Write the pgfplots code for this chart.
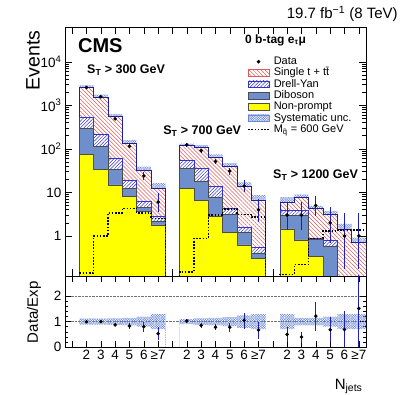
\documentclass[border=0pt]{standalone}
\usepackage{fontspec}
\setmainfont{Liberation Sans}
\usepackage{pgfplots}
\pgfplotsset{compat=1.18}
\usepgfplotslibrary{fillbetween}
\usetikzlibrary{patterns,patterns.meta}

\definecolor{npyellow}{RGB}{255,255,0}
\definecolor{dibblue}{RGB}{111,142,204}
\definecolor{hatchred}{RGB}{222,90,90}
\definecolor{dyblue}{RGB}{50,50,205}
\definecolor{edgeblue}{RGB}{30,30,150}
\definecolor{systblue}{RGB}{105,135,220}
\definecolor{errblue}{RGB}{30,30,190}

\pgfplotsset{
  boxleg/.style={legend image code/.code={\draw[##1] (0pt,-3.4pt) rectangle (21pt,3.4pt);}},
  tstyle/.style={fill=white, draw=edgeblue, line width=0.5pt,
    postaction={pattern={Lines[angle=-45,distance=2.8pt,line width=0.5pt]}, pattern color=hatchred}},
  dystyle/.style={fill=white, draw=dyblue, line width=0.6pt,
    postaction={pattern={Lines[angle=45,distance=2.4pt,line width=0.5pt]}, pattern color=dyblue}},
  dibstyle/.style={fill=dibblue, draw=black!70, line width=0.5pt},
  npstyle/.style={fill=npyellow, draw=black!70, line width=0.5pt},
  syststyle/.style={pattern={Hatch[angle=45,distance=1.7pt,line width=0.35pt]}, pattern color=systblue},
  sigstyle/.style={black, line width=1.6pt, dash pattern=on 1.6pt off 1.6pt},
  stack/.style={const plot, forget plot},
}

\begin{document}
\begin{tikzpicture}

\begin{axis}[
  name=main, at={(0pt,0pt)}, anchor=south west,
  width=301pt, height=249pt, scale only axis,
  clip mode=individual,
  xmin=0, xmax=21,
  ymode=log, ymin=0.12, ymax=6.3e4,
  xtick={0.5,1.5,...,20.5}, xticklabel=\empty,
  ytick={1,10,100,1000,10000},
  yticklabels={1,10,10\textsuperscript{2},10\textsuperscript{3},10\textsuperscript{4}},
  tick label style={font=\fontsize{13.5}{14}\selectfont},
  major tick length=7pt, minor tick length=3.5pt,
  tick style={black, line width=0.5pt},
  axis line style={line width=0.6pt},
  ylabel={Events},
  ylabel style={font=\fontsize{19.5}{20}\selectfont, at={(axis description cs:-0.106,1)}, anchor=east},
  legend cell align=left,
  legend style={at={(rel axis cs:0.605,0.884)}, anchor=north west, draw=none, fill=none,
    inner sep=0pt, row sep=0pt, font=\fontsize{11}{12}\selectfont,
    nodes={inner sep=0.9pt, text height=7.6pt, text depth=1.9pt},
    /tikz/every odd column/.append style={column sep=3pt}},
]
% legend, in the reference's order
\addlegendimage{legend image code/.code={\fill[black] (10.5pt,0pt) circle (1.6pt);}}
\addlegendentry{Data}
\addlegendimage{boxleg, tstyle, draw=hatchred}
\addlegendentry{Single t + t\={t}}
\addlegendimage{boxleg, dystyle}
\addlegendentry{Drell-Yan}
\addlegendimage{boxleg, dibstyle}
\addlegendentry{Diboson}
\addlegendimage{boxleg, npstyle}
\addlegendentry{Non-prompt}
\addlegendimage{boxleg, syststyle, draw=systblue, line width=0.4pt}
\addlegendentry{Systematic unc.}
\addlegendimage{legend image code/.code={\draw[black, line width=1.6pt, dash pattern=on 1.6pt off 1.6pt] (0pt,0pt) -- (21pt,0pt);}}
\addlegendentry{M\textsubscript{\~{q}} = 600 GeV}

% stacked backgrounds: cumulative heights per bin (left bin edges), top layer first
\addplot[stack, tstyle] coordinates {
  (1,0.01)(1,2570)(2,1570)(3,565)(4,138)(5,32.6)(6,12.6)(7,12.6)(7,0.01)
  (8,120)(9,107)(10,65)(11,40)(12,13.5)(13,6.7)(14,6.7)(14,0.01)
  (15,6.0)(16,7.7)(17,4.3)(18,3.1)(19,1.45)(20,0.7)(21,0.7)(21,0.01)};
\addplot[stack, dystyle] coordinates {
  (1,0.01)(1,520)(2,218)(3,61)(4,18.5)(5,6.1)(6,2.77)(7,2.77)(7,0.01)
  (8,55)(9,35)(10,13.5)(11,4.4)(12,1.58)(13,0.55)(14,0.55)(14,0.01)
  (15,3.9)(16,3.9)(17,0.9)(18,0.81)(19,0.05)(20,0.05)(21,0.05)(21,0.01)};
\addplot[stack, dibstyle] coordinates {
  (1,0.01)(1,295)(2,116)(3,34)(4,12.4)(5,4.55)(6,2.13)(7,2.13)(7,0.01)
  (8,35)(9,18.4)(10,7.9)(11,3.1)(12,1.2)(13,0.41)(14,0.41)(14,0.01)
  (15,3.0)(16,3.0)(17,0.85)(18,0.57)(19,0.04)(20,0.04)(21,0.04)(21,0.01)};
\addplot[stack, npstyle] coordinates {
  (1,0.01)(1,76)(2,34)(3,14.8)(4,8.0)(5,3.6)(6,1.79)(7,1.79)(7,0.01)
  (8,12.3)(9,6.5)(10,2.9)(11,1.2)(12,0.62)(13,0.31)(14,0.31)(14,0.01)
  (15,1.45)(16,0.81)(17,0.34)(18,0.05)(19,0.02)(20,0.02)(21,0.02)(21,0.01)};

% systematic band
\addplot[name path=up, draw=none, const plot, forget plot] coordinates {
  (1,2878)(2,1758)(3,638)(4,159)(5,39.1)(6,16.4)(7,16.4)(7,0.01)
  (8,132)(9,121)(10,74.8)(11,47.2)(12,16.9)(13,8.7)(14,8.7)(14,0.01)
  (15,7.8)(16,8.9)(17,4.9)(18,3.7)(19,1.9)(20,0.91)(21,0.91)};
\addplot[name path=lo, draw=none, const plot, forget plot] coordinates {
  (1,2262)(2,1382)(3,492)(4,117)(5,26.1)(6,8.8)(7,8.8)(7,0.01)
  (8,108)(9,93.1)(10,55.3)(11,32.8)(12,10.1)(13,4.7)(14,4.7)(14,0.01)
  (15,4.2)(16,6.5)(17,3.7)(18,2.5)(19,1.0)(20,0.49)(21,0.49)};
\addplot[syststyle, forget plot] fill between[of=up and lo];

% signal
\addplot[sigstyle, const plot, forget plot] coordinates {
  (1,0.14)(2,1.0)(3,3.4)(4,4.3)(5,3.4)(6,2.5)(7,2.5)(7,0.01)
  (8,0.15)(9,0.88)(10,3.0)(11,4.2)(12,3.1)(13,2.7)(14,2.7)(14,0.01)
  (15,0.13)(16,0.22)(17,0.88)(18,1.3)(19,1.37)(20,1.37)(21,1.37)};

% data
\addplot[only marks, mark=*, mark size=1.6pt, black, forget plot,
  error bars/.cd, y dir=both, y explicit,
  error bar style={errblue, line width=0.8pt}, error mark=none] coordinates {
  (1.5,2570) +- (0,51)
  (2.5,1570) +- (0,40)
  (3.5,490) +- (0,22)
  (4.5,115) +- (0,11)
  (5.5,24) +- (0,5)
  (6.5,6) += (0,3.6) -= (0,2.4)
  (8.5,124) +- (0,11)
  (9.5,91) +- (0,9.5)
  (10.5,51) +- (0,7.2)
  (11.5,31) +- (0,5.6)
  (12.5,14) += (0,4.8) -= (0,3.7)
  (13.5,4) += (0,3.2) -= (0,1.9)
  (15.5,3) += (0,2.9) -= (0,1.6)
  (16.5,3) += (0,2.9) -= (0,1.6)
  (17.5,5) += (0,3.4) -= (0,2.2)
  (18.5,2) += (0,2.6) -= (0,1.3)
  (19.5,1) += (0,2.3) -= (0,0.83)
  (20.5,1) += (0,2.3) -= (0,0.83)};

\node[anchor=north west, inner sep=0pt, font=\fontsize{20}{20}\selectfont\bfseries] at (rel axis cs:0.043,0.956) {CMS};
\node[anchor=west, inner sep=0pt, font=\fontsize{12.5}{13}\selectfont\bfseries] at (rel axis cs:0.073,0.827) {S\textsubscript{T} > 300 GeV};
\node[anchor=west, inner sep=0pt, font=\fontsize{12.5}{13}\selectfont\bfseries] at (rel axis cs:0.326,0.582) {S\textsubscript{T} > 700 GeV};
\node[anchor=west, inner sep=0pt, font=\fontsize{12.5}{13}\selectfont\bfseries] at (rel axis cs:0.691,0.406) {S\textsubscript{T} > 1200 GeV};
\node[anchor=west, inner sep=0pt, font=\fontsize{12}{13}\selectfont\bfseries] at (rel axis cs:0.598,0.948) {0 b-tag e\textsubscript{τ}μ};
\node[anchor=east, inner sep=0pt, font=\fontsize{15}{16}\selectfont] at (rel axis cs:1.106,1.052) {19.7 fb\textsuperscript{−1} (8 TeV)};
\end{axis}

\begin{axis}[
  at={(0pt,0pt)}, anchor=north west,
  width=301pt, height=71pt, scale only axis,
  xmin=0, xmax=21, ymin=0, ymax=2.8,
  xtick={0.5,1.5,...,20.5},
  xticklabels={{},2,3,4,5,6,≥7,{},2,3,4,5,6,≥7,{},2,3,4,5,6,≥7},
  ytick={0,1,2}, yticklabels={0,1,2},
  minor y tick num=4,
  ymajorgrids, major grid style={black!55, densely dotted, line width=0.5pt},
  tick label style={font=\fontsize{13.5}{14}\selectfont},
  major tick length=6pt, minor tick length=3pt,
  tick style={black, line width=0.5pt},
  axis line style={line width=0.6pt},
  ylabel={Data/Exp},
  ylabel style={font=\fontsize{15}{16}\selectfont, at={(axis description cs:-0.103,0.49)}, anchor=center},
  xlabel={N\textsubscript{jets}},
  xlabel style={font=\fontsize{15}{16}\selectfont, at={(axis description cs:1,-0.40)}, anchor=north east},
]
\addplot[name path=rup, draw=none, const plot, forget plot] coordinates {
  (1,1.12)(2,1.12)(3,1.13)(4,1.15)(5,1.2)(6,1.3)(7,1.3)(7,-1)
  (8,1.1)(9,1.13)(10,1.15)(11,1.18)(12,1.25)(13,1.3)(14,1.3)(14,-1)
  (15,1.3)(16,1.15)(17,1.15)(18,1.2)(19,1.3)(20,1.3)(21,1.3)};
\addplot[name path=rlo, draw=none, const plot, forget plot] coordinates {
  (1,0.88)(2,0.88)(3,0.87)(4,0.85)(5,0.8)(6,0.7)(7,0.7)(7,-1)
  (8,0.9)(9,0.87)(10,0.85)(11,0.82)(12,0.75)(13,0.7)(14,0.7)(14,-1)
  (15,0.7)(16,0.85)(17,0.85)(18,0.8)(19,0.7)(20,0.7)(21,0.7)};
\addplot[syststyle, forget plot] fill between[of=rup and rlo];

\addplot[only marks, mark=*, mark size=1.6pt, black, forget plot,
  error bars/.cd, y dir=both, y explicit,
  error bar style={errblue, line width=0.8pt}, error mark=none] coordinates {
  (1.5,1.0) +- (0,0.03)
  (2.5,1.0) +- (0,0.03)
  (3.5,0.87) +- (0,0.05)
  (4.5,0.83) += (0,0.11) -= (0,0.12)
  (5.5,0.8) += (0,0.17) -= (0,0.19)
  (6.5,0.53) += (0,0.25) -= (0,0.24)
  (8.5,1.03) +- (0,0.09)
  (9.5,0.85) += (0,0.09) -= (0,0.11)
  (10.5,0.78) += (0,0.12) -= (0,0.10)
  (11.5,0.78) += (0,0.16) -= (0,0.17)
  (12.5,1.05) += (0,0.31) -= (0,0.35)
  (13.5,0.67) += (0,0.33) -= (0,0.36)
  (15.5,0.5) += (0,0.28) -= (0,0.31)
  (16.5,0.39) += (0,0.22) -= (0,0.23)
  (17.5,1.22) += (0,0.56) -= (0,0.58)
  (18.5,0.68) += (0,0.49) -= (0,0.49)
  (19.5,0.69) += (0,0.71) -= (0,0.69)
  (20.5,1.52) += (0,2.0) -= (0,1.52)};
\end{axis}
\pgfresetboundingbox
\useasboundingbox (-65pt,-119pt) rectangle (342pt,276pt);
\end{tikzpicture}
\end{document}
